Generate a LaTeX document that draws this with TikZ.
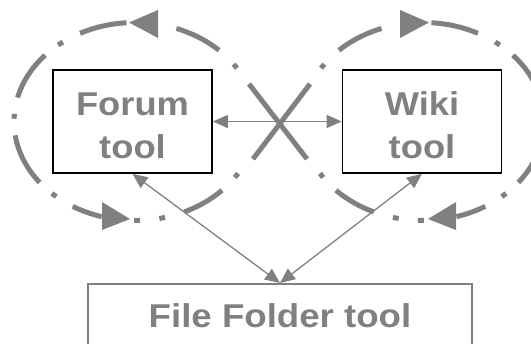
\documentclass[tikz,border=0pt]{standalone}
\usepackage{fontspec}
\setmainfont{Liberation Sans}
\usepackage{graphicx}
\usetikzlibrary{arrows.meta}

\definecolor{linegray}{RGB}{128,128,128}
\definecolor{textgray}{RGB}{128,128,128}

% one dashed stretch of a feedback loop, between two parameter angles
\newcommand\loopseg[2]{\draw[loopdash] (#1:121 and 99) arc[start angle=#1, end angle=#2, x radius=121, y radius=99];}
% a single square dot of the dash-dot pattern
\newcommand\loopdot[1]{\loopseg{#1-1.4}{#1+1.4}}

% the dash-dot loop around a tool, with its two arrowheads
\newcommand\toolloop{%
  \begin{scope}[shift={(135,121.5)}]
    \loopseg{194}{222}
    \loopdot{232}
    \loopseg{243}{266}
    \loopseg{290}{314}
    \loopdot{326}
    \loopdot{33}
    \loopseg{44}{66}
    \loopdot{77}
    \loopdot{89}
    \loopseg{106}{121}
    \loopdot{132}
    \loopseg{142}{172}
    \loopdot{183}
  \end{scope}
  \fill[loophead] (129,22.5) -- (158,10) -- (158,38) -- cycle;
  \fill[loophead] (130,219) -- (102,202) -- (102,230) -- cycle;
}

\begin{document}
\begin{tikzpicture}[x=1pt, y=-1pt,
  loopdash/.style={draw=linegray, line width=5pt, line cap=butt},
  loophead/.style={fill=linegray},
  crossline/.style={draw=linegray, line width=5pt, line cap=butt},
  toolbox/.style={draw=black, line width=1.6pt, minimum width=159pt,
    minimum height=103pt, inner sep=0pt, align=center, text=textgray,
    font=\fontsize{33}{43}\selectfont\bfseries},
  folderbox/.style={draw=linegray, line width=2pt, minimum width=384pt,
    anchor=north, inner xsep=0pt, inner ysep=20pt, text height=24pt,
    text depth=40pt, text=textgray, font=\fontsize{33}{40}\selectfont\bfseries},
  link/.style={draw=linegray, line width=1.3pt,
    arrows={Triangle[length=15pt,width=13pt]-Triangle[length=15pt,width=13pt]}},
]
\useasboundingbox (0,0) rectangle (531,344);
\clip (0,0) rectangle (531,344);

% feedback loops round the two tools
\toolloop
\begin{scope}[xshift=558pt, xscale=-1]
  \toolloop
\end{scope}

% the crossed-out direct link
\draw[crossline] (249,84) -- (307,159);
\draw[crossline] (310,84) -- (253,159);

% tools
\node[toolbox] (forum) at (132.5,121.5)
  {\rule{0pt}{30.4pt}\scalebox{1.1}[1]{Forum}\\\scalebox{1.1}[1]{tool}};
\node[toolbox] (wiki) at (422,121.5)
  {\rule{0pt}{30.4pt}\scalebox{1.1}[1]{Wiki}\\\scalebox{1.1}[1]{tool}};
\node[folderbox] (folder) at (280,283)
  {\scalebox{1.11}[1]{File Folder tool}};

% connectors
\draw[link] (forum.east) -- (wiki.west);
\draw[link] (folder.north) -- (forum.south);
\draw[link] (folder.north) -- (wiki.south);
\end{tikzpicture}
\end{document}
